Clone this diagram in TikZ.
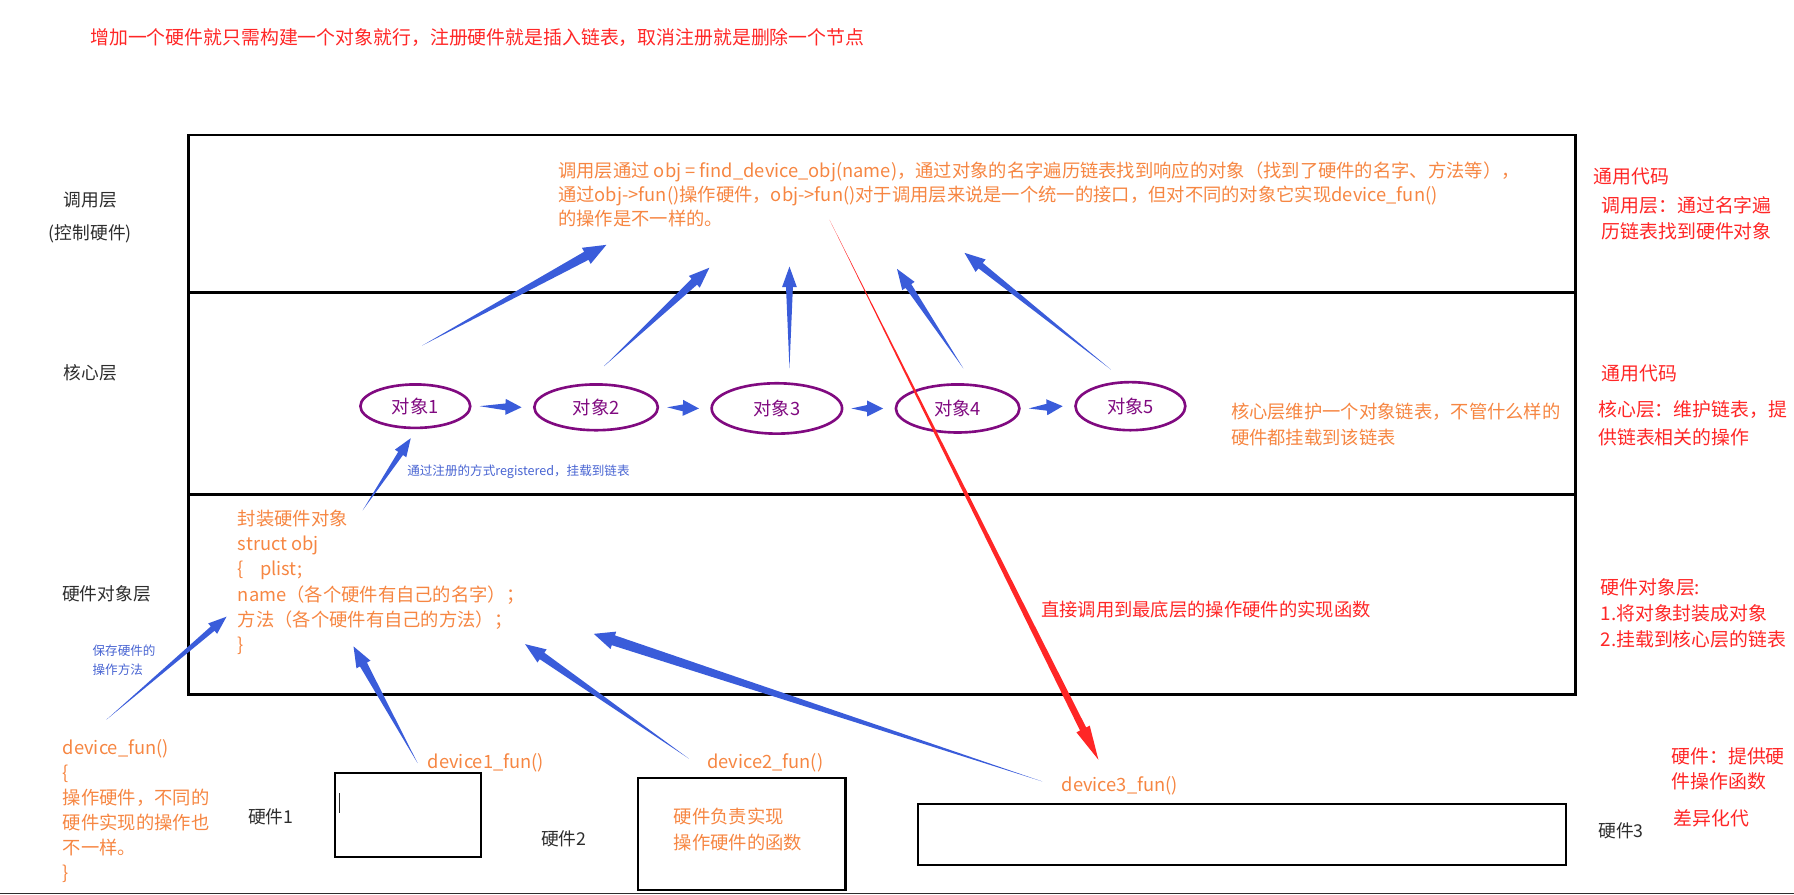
\documentclass[tikz,border=0pt]{standalone}
\usepackage{fontspec}
\setmainfont{Noto Sans CJK SC}
\usetikzlibrary{calc,shapes.geometric}
\definecolor{txtorange}{RGB}{246,134,66}
\definecolor{txtred}{RGB}{255,38,38}
\definecolor{arrblue}{RGB}{58,92,218}
\definecolor{objpurple}{RGB}{128,10,128}
\definecolor{lblgray}{RGB}{45,45,45}
\definecolor{noteblue}{RGB}{72,100,210}
\tikzset{
  lbl/.style={anchor=west,inner sep=0.75pt,align=left,text=lblgray,font=\fontsize{15.5}{20}\selectfont},
  onote/.style={anchor=west,inner sep=0.75pt,align=left,text=txtorange,font=\fontsize{16}{22}\selectfont},
  rnote/.style={anchor=west,inner sep=0.75pt,align=left,text=txtred,font=\fontsize{16.5}{23}\selectfont},
  bnote/.style={anchor=west,inner sep=0.75pt,align=left,text=noteblue,font=\fontsize{11}{17}\selectfont},
  obj/.style={ellipse,draw=objpurple,line width=2.3pt,text=objpurple,inner sep=0pt,font=\fontsize{16}{18}\selectfont},
  hwbox/.style={line width=1.8pt},
}
% tapered arrow: [colour]{tail}{tip}{head length}{head half width}{shaft half width}
\newcommand{\taper}[6][arrblue]{%
  \fill [#1] (#2) -- ($(#3)!#4!(#2)!#6!90:(#2)$) -- ($(#3)!#4!(#2)!#5!90:(#2)$) -- (#3)
    -- ($(#3)!#4!(#2)!#5!-90:(#2)$) -- ($(#3)!#4!(#2)!#6!-90:(#2)$) -- cycle;}
\begin{document}
\begin{tikzpicture}[x=1pt,y=1pt,yscale=-1,xscale=1]
\useasboundingbox (0,0) rectangle (1568,782);

% Title
\node [rnote,font=\fontsize{16.5}{20}\selectfont] (title) at (78,33) {增加一个硬件就只需构建一个对象就行，注册硬件就是插入链表，取消注册就是删除一个节点};

%Frame of the three layers
\draw [line width=2.6pt] (165,118) rectangle (1377,607);
\draw [line width=2.6pt] (165,256) -- (1377,256);
\draw [line width=2.6pt] (165,432) -- (1377,432);
%Bottom line
\draw [line width=1.5pt,color=lblgray] (0,781) -- (1568,781);

% Layer names
\node [lbl,anchor=center,align=center,font=\fontsize{15.5}{29}\selectfont] (lyCall) at (79,190) {调用层\\(控制硬件)};
\node [lbl,anchor=center] (lyCore) at (79,326) {核心层};
\node [lbl,anchor=center] (lyObj) at (93,519) {硬件对象层};

% Call layer text
\node [onote,font=\fontsize{16}{21}\selectfont] (callNote) at (487,170) {调用层通过 obj = find\_device\_obj(name)，通过对象的名字遍历链表找到响应的对象（找到了硬件的名字、方法等），\\通过obj->fun()操作硬件，obj->fun()对于调用层来说是一个统一的接口，但对不同的对象它实现device\_fun()\\的操作是不一样的。};

% Right side notes
\node [rnote] (genCode1) at (1392,154) {通用代码};
\node [rnote] (callSide) at (1399,191) {调用层：通过名字遍\\历链表找到硬件对象};
\node [rnote] (genCode2) at (1399,326) {通用代码};
\node [rnote,font=\fontsize{16.5}{24}\selectfont] (coreSide) at (1396,370) {核心层：维护链表，提\\供链表相关的操作};
\node [rnote,font=\fontsize{16.5}{22.5}\selectfont] (objSide) at (1398,536) {硬件对象层:\\1.将对象封装成对象\\2.挂载到核心层的链表};
\node [rnote,font=\fontsize{16.5}{22}\selectfont] (hwSide) at (1460,672) {硬件：提供硬\\件操作函数};
\node [rnote] (diffCode) at (1462,715) {差异化代};

% Core layer text
\node [onote] (coreNote) at (1075,371) {核心层维护一个对象链表，不管什么样的\\硬件都挂载到该链表};

%Shape: Ellipse
\node [obj,minimum width=96pt,minimum height=38pt] (e1) at (363,355) {对象1};
\node [obj,minimum width=108pt,minimum height=40pt] (e2) at (521,356) {对象2};
\node [obj,minimum width=114pt,minimum height=44pt] (e3) at (679,357) {对象3};
\node [obj,minimum width=108pt,minimum height=42pt] (e4) at (837,357) {对象4};
\node [obj,minimum width=96pt,minimum height=42pt] (e5) at (988,355) {对象5};

% Links of the list
\coordinate (l1a) at ($(e1.east)+(7,0)$);  \coordinate (l1b) at ($(e2.west)+(-10,0)$);
\coordinate (l2a) at ($(e2.east)+(7,0)$);  \coordinate (l2b) at ($(e3.west)+(-10,0)$);
\coordinate (l3a) at ($(e3.east)+(7,0)$);  \coordinate (l3b) at ($(e4.west)+(-10,0)$);
\coordinate (l4a) at ($(e4.east)+(7,0)$);  \coordinate (l4b) at ($(e5.west)+(-10,0)$);
\taper{l1a}{l1b}{14pt}{7pt}{3pt}
\taper{l2a}{l2b}{14pt}{7pt}{3pt}
\taper{l3a}{l3b}{14pt}{7pt}{3pt}
\taper{l4a}{l4b}{14pt}{7pt}{3pt}

% Arrows up to the call layer
\coordinate (u1a) at (369,302);  \coordinate (u1b) at (530,214);
\coordinate (u2a) at (528,320);  \coordinate (u2b) at (620,234);
\coordinate (u3a) at (690,322);  \coordinate (u3b) at (690,233);
\coordinate (u4a) at (842,322);  \coordinate (u4b) at (784,235);
\coordinate (u5a) at (971,323);  \coordinate (u5b) at (843,221);
\taper{u1a}{u1b}{20pt}{8pt}{4pt}
\taper{u2a}{u2b}{18pt}{7pt}{3.5pt}
\taper{u3a}{u3b}{18pt}{6.5pt}{3pt}
\taper{u4a}{u4b}{18pt}{6.5pt}{3pt}
\taper{u5a}{u5b}{18pt}{7pt}{3pt}

% Register arrow
\node [bnote] (regNote) at (355,412) {通过注册的方式registered，挂载到链表};
\coordinate (r1a) at (317,446);  \coordinate (r1b) at (359,383);
\taper{r1a}{r1b}{16pt}{6pt}{2.5pt}

% Hardware object layer text
\node [onote] (structTxt) at (207,509) {封装硬件对象\\struct obj\\\{\hspace{14pt}plist;\\name（各个硬件有自己的名字）；\\方法（各个硬件有自己的方法）；\\\}};
\node [bnote] (saveNote) at (80,577) {保存硬件的\\操作方法};

% Hardware
\node [onote,font=\fontsize{16}{21.8}\selectfont] (devFun) at (54,709) {device\_fun()\\\{\\操作硬件，不同的\\硬件实现的操作也\\不一样。\\\}};
\node [lbl] (hw1) at (216,714) {硬件1};
\node [lbl] (hw2) at (472,733) {硬件2};
\node [lbl] (hw3) at (1396,726) {硬件3};
\node [onote] (dev1) at (373,667) {device1\_fun()};
\node [onote] (dev2) at (617,667) {device2\_fun()};
\node [onote] (dev3) at (927,687) {device3\_fun()};
\draw [hwbox] (293,676) rectangle (420,749);
\draw [line width=0.6pt,color=lblgray] (297,693) -- (297,711);
\draw [hwbox] (558,680) rectangle (739,778);
\node [onote] (hw2Note) at (588,725) {硬件负责实现\\操作硬件的函数};
\draw [hwbox] (802,703) rectangle (1369,756);

% Arrows from the functions
\coordinate (f0a) at (93,629);   \coordinate (f0b) at (198,539);
\coordinate (f1a) at (365,667);  \coordinate (f1b) at (309,565);
\coordinate (f2a) at (602,663);  \coordinate (f2b) at (459,563);
\coordinate (f3a) at (911,683);  \coordinate (f3b) at (519,554);
\taper{f0a}{f0b}{16pt}{6pt}{2.5pt}
\taper{f1a}{f1b}{18pt}{7pt}{3.5pt}
\taper{f2a}{f2b}{18pt}{7pt}{3.5pt}
\taper{f3a}{f3b}{18pt}{8pt}{4.5pt}

% Direct call
\node [rnote,font=\fontsize{16}{20}\selectfont] (directNote) at (909,533) {直接调用到最底层的操作硬件的实现函数};
\coordinate (d1a) at (725,192);  \coordinate (d1b) at (960,664);
\taper[txtred]{d1a}{d1b}{30pt}{6.5pt}{3pt}
\end{tikzpicture}
\end{document}
